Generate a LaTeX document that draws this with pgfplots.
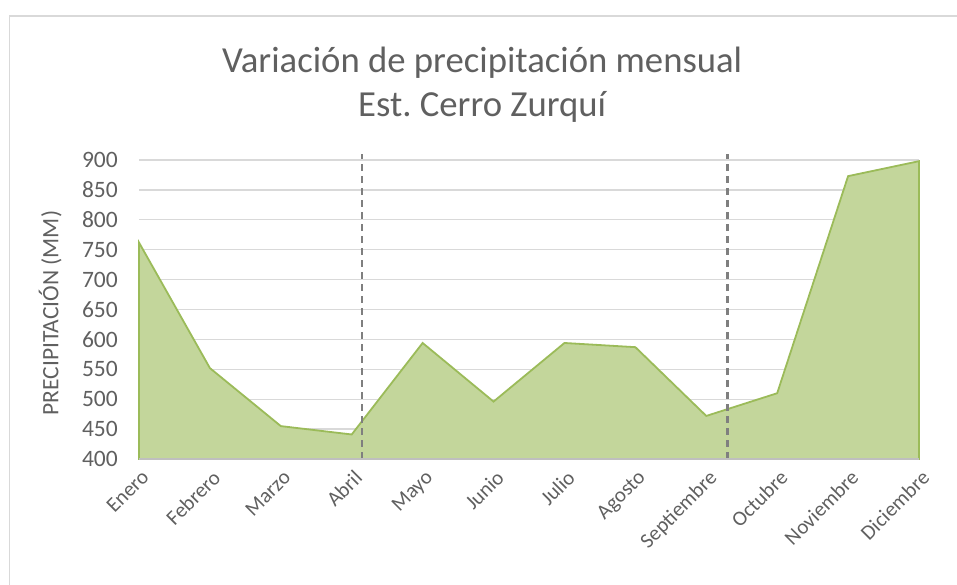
\documentclass[border=0pt]{standalone}
\usepackage{fontspec}
\setmainfont{Carlito}
\usepackage{pgfplots}
\pgfplotsset{compat=1.18}

\definecolor{txt}{HTML}{606060}
\definecolor{gridc}{HTML}{D9D9D9}
\definecolor{axisc}{HTML}{BFBFBF}
\definecolor{areafill}{HTML}{C3D69B}
\definecolor{arealine}{HTML}{9BBB59}
\definecolor{dashc}{HTML}{7F7F7F}

\begin{document}
\frenchspacing
\begin{tikzpicture}
\begin{axis}[
    scale only axis, width=780pt, height=299pt,
    xmin=0, xmax=11, ymin=400, ymax=900,
    clip=false,
    axis x line*=bottom, axis y line*=left,
    x axis line style={draw=axisc, line width=1.3pt},
    y axis line style={draw=none},
    xtick={0,...,11},
    xticklabels={Enero,Febrero,Marzo,Abril,Mayo,Junio,Julio,Agosto,Septiembre,Octubre,Noviembre,Diciembre},
    ytick={400,450,...,900},
    major tick length=0pt,
    ymajorgrids, grid style={gridc, line width=1.3pt},
    /pgf/number format/assume math mode=true,
    yticklabel style={font=\fontsize{23.5}{28}\selectfont, text=txt, anchor=east, inner sep=0pt, xshift=-21pt},
    xticklabel style={font=\fontsize{21}{25}\selectfont, text=txt, rotate=45, anchor=north east, inner sep=0pt, xshift=-6pt, yshift=-8pt},
]
\addplot[fill=areafill, draw=arealine, line width=1.8pt] coordinates {
  (0,400) (0,762) (1,552) (2,455) (3,441) (4,594) (5,496)
  (6,594) (7,587) (8,472) (9,510) (10,873) (11,898) (11,400)
} -- cycle;
\draw[dashc, line width=2.2pt, dash pattern=on 7pt off 5pt] (axis cs:3.14,400) -- (axis cs:3.14,910);
\draw[dashc, line width=2.2pt, dash pattern=on 7pt off 5pt] (axis cs:8.30,400) -- (axis cs:8.30,910);
\draw[axisc, line width=1.3pt] (rel axis cs:0,0) -- (rel axis cs:1,0);
\node[text=txt, font=\fontsize{36.7}{44}\selectfont, anchor=base] at (rel axis cs:0.44,1.294) {Variación de precipitación mensual};
\node[text=txt, font=\fontsize{36.7}{44}\selectfont, anchor=base] at (rel axis cs:0.44,1.144) {Est. Cerro Zurquí};
\node[text=txt, font=\fontsize{23.5}{28}\selectfont, rotate=90] at (rel axis cs:-0.114,0.488) {PRECIPITACIÓN (MM)};
\coordinate (bl) at (rel axis cs:-0.1782,-0.4214);
\coordinate (tr) at (rel axis cs:1.0487,1.5351);
\coordinate (fl) at (rel axis cs:-0.166,1.4816);
\end{axis}
\draw[gridc, line width=1.5pt] (fl |- bl) -- (fl) -- (fl -| tr);
\pgfresetboundingbox
\path[use as bounding box] (bl) rectangle (tr);
\end{tikzpicture}
\end{document}
